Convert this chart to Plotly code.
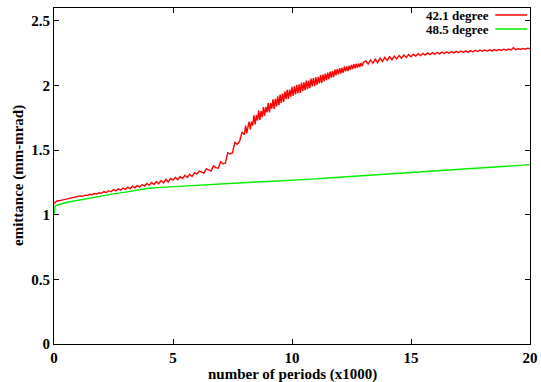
import plotly.graph_objects as go

series_names = ["42.1 degree", "48.5 degree"]
series_colors = ["#ff0000", "#00ee00"]
x_title = "number of periods (x1000)"
y_title = "emittance (mm-mrad)"

# red series: three sampled stretches (0-8 every 0.1, 8.05-13 every 0.05, 13.1-20 every 0.1)
red_y_a = [
    1.085, 1.105, 1.108, 1.112, 1.114, 1.122, 1.121, 1.130, 1.129, 1.138,
    1.137, 1.146, 1.143, 1.152, 1.149, 1.158, 1.155, 1.164, 1.161, 1.170,
    1.166, 1.180, 1.172, 1.186, 1.178, 1.194, 1.184, 1.200, 1.190, 1.207,
    1.197, 1.214, 1.203, 1.221, 1.209, 1.227, 1.215, 1.234, 1.222, 1.242,
    1.228, 1.250, 1.234, 1.257, 1.240, 1.265, 1.246, 1.273, 1.253, 1.281,
    1.268, 1.288, 1.272, 1.296, 1.280, 1.305, 1.288, 1.314, 1.297, 1.326,
    1.315, 1.338, 1.330, 1.322, 1.355, 1.345, 1.338, 1.378, 1.365, 1.360,
    1.410, 1.395, 1.400, 1.480, 1.470, 1.480, 1.560, 1.545, 1.570, 1.640,
    1.620,
]
red_y_b = [
    1.690, 1.630, 1.680, 1.720, 1.660, 1.720, 1.690, 1.770, 1.700, 1.770,
    1.728, 1.806, 1.734, 1.802, 1.755, 1.833, 1.766, 1.834, 1.792, 1.865,
    1.792, 1.864, 1.821, 1.893, 1.820, 1.897, 1.839, 1.916, 1.848, 1.930,
    1.866, 1.937, 1.873, 1.954, 1.895, 1.966, 1.897, 1.968, 1.914, 1.990,
    1.919, 1.993, 1.932, 2.006, 1.940, 2.009, 1.943, 2.022, 1.956, 2.025,
    1.964, 2.038, 1.972, 2.036, 1.980, 2.054, 1.993, 2.057, 1.996, 2.065,
    2.004, 2.068, 2.017, 2.081, 2.020, 2.084, 2.033, 2.092, 2.041, 2.100,
    2.049, 2.108, 2.062, 2.111, 2.065, 2.124, 2.078, 2.127, 2.086, 2.135,
    2.093, 2.136, 2.099, 2.147, 2.110, 2.148, 2.111, 2.154, 2.122, 2.160,
    2.128, 2.165, 2.133, 2.170, 2.138, 2.170, 2.143, 2.175, 2.151, 2.180,
]
red_y_c = [
    2.190, 2.166, 2.198, 2.172, 2.205, 2.178, 2.212, 2.186, 2.218,
    2.193, 2.223, 2.200, 2.228, 2.206, 2.232, 2.212, 2.236, 2.217, 2.240,
    2.222, 2.242, 2.228, 2.246, 2.232, 2.249, 2.236, 2.252, 2.239, 2.255,
    2.242, 2.257, 2.245, 2.259, 2.248, 2.261, 2.250, 2.263, 2.253, 2.265,
    2.255, 2.267, 2.257, 2.269, 2.259, 2.270, 2.261, 2.272, 2.263, 2.274,
    2.265, 2.275, 2.267, 2.276, 2.268, 2.278, 2.270, 2.279, 2.272, 2.281,
    2.273, 2.282, 2.275, 2.292, 2.277, 2.285, 2.279, 2.287, 2.281, 2.289,
    2.284,
]
red_x = ([round(0.1 * i, 2) for i in range(len(red_y_a))]
         + [round(8.0 + 0.05 * (i + 1), 2) for i in range(len(red_y_b))]
         + [round(13.0 + 0.1 * (i + 1), 2) for i in range(len(red_y_c))])
red_y = red_y_a + red_y_b + red_y_c

green_x = [0, 0.05, 0.5, 1.0, 1.5, 2.0, 2.5, 3.0, 3.5, 4.0, 4.5, 5.0, 5.5, 6.0,
           6.5, 7.0, 7.5, 8.0, 8.5, 9.0, 9.5, 10.0, 10.5, 11.0, 11.5, 12.0,
           12.5, 13.0, 13.5, 14.0, 14.5, 15.0, 15.5, 16.0, 16.5, 17.0, 17.5,
           18.0, 18.5, 19.0, 19.5, 20.0]
green_y = [1.00, 1.07, 1.095, 1.112, 1.128, 1.150, 1.162, 1.175, 1.190, 1.205,
           1.212, 1.218, 1.224, 1.230, 1.235, 1.240, 1.245, 1.250, 1.254,
           1.258, 1.262, 1.266, 1.272, 1.278, 1.284, 1.290, 1.296, 1.303,
           1.309, 1.315, 1.320, 1.326, 1.332, 1.338, 1.343, 1.348, 1.354,
           1.360, 1.366, 1.373, 1.380, 1.388]

x_ticks = [0, 5, 10, 15, 20]
y_ticks = [0, 0.5, 1, 1.5, 2, 2.5]
y_tick_text = ["0", "0.5", "1", "1.5", "2", "2.5"]

FONT = "'Liberation Serif', 'Times New Roman', Times, serif"

fig = go.Figure()
for xs, ys, name, col in [(red_x, red_y, series_names[0], series_colors[0]),
                          (green_x, green_y, series_names[1], series_colors[1])]:
    fig.add_trace(go.Scatter(x=xs, y=ys, mode="lines", name=name,
                             line=dict(color=col, width=1.4), showlegend=False))

axis_common = dict(showline=True, linecolor="black", linewidth=1, mirror="allticks",
                   ticks="inside", ticklen=5, tickcolor="black", showgrid=False,
                   zeroline=False, automargin=False,
                   tickfont=dict(family=FONT, size=15, color="black", weight="bold"))

fig.update_xaxes(range=[0, 20], tickvals=x_ticks, **axis_common)
fig.update_yaxes(range=[0, 2.6], tickvals=y_ticks, ticktext=y_tick_text, **axis_common)

# axis titles as annotations (gnuplot placement)
fig.add_annotation(xref="paper", yref="paper", x=0.5, y=0, yshift=-30, text="<b>" + x_title + "</b>",
                   showarrow=False, xanchor="center", yanchor="middle",
                   font=dict(family=FONT, size=15, color="black"))
fig.add_annotation(xref="paper", yref="paper", x=0, y=0.5, xshift=-36, text="<b>" + y_title + "</b>",
                   showarrow=False, xanchor="center", yanchor="middle", textangle=-90,
                   font=dict(family=FONT, size=15, color="black"))

# legend drawn gnuplot-style (text right, sample line on right)
leg_y = [0.979, 0.9375]
for i, (name, col) in enumerate(zip(series_names, series_colors)):
    fig.add_annotation(xref="paper", yref="paper", x=0.918, y=leg_y[i], text="<b>" + name + "</b>",
                       showarrow=False, xanchor="right", yanchor="middle",
                       font=dict(family=FONT, size=13, color="black"))
    fig.add_shape(type="line", xref="paper", yref="paper", x0=0.927, x1=0.994,
                  y0=leg_y[i], y1=leg_y[i], line=dict(color=col, width=1.4))

fig.update_layout(width=541, height=382, plot_bgcolor="white", paper_bgcolor="white",
                  margin=dict(l=54, r=11, t=8, b=38))

fig.write_html("out.html")
